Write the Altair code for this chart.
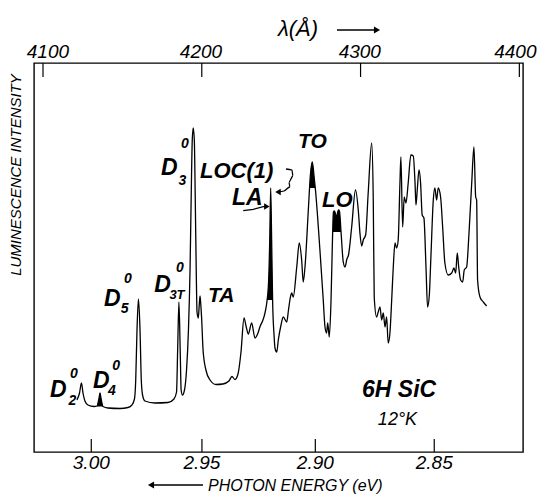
import altair as alt
import pandas as pd

# ---------------- data ----------------
# x: wavelength (Angstrom, linear top scale); y: luminescence intensity (arb. units)
wavelength = [
    4121.4, 4123.0, 4124.2, 4125.2, 4126.4, 4128.3, 4132.1, 4134.0, 4135.3, 4135.9,
    4136.5, 4137.8, 4140.9, 4148.5, 4153.5, 4156.0, 4157.6, 4158.4, 4159.2, 4160.1,
    4161.1, 4161.9, 4162.7, 4164.2, 4170.5, 4178.7, 4182.5, 4184.1, 4184.8, 4185.6,
    4186.4, 4187.0, 4187.8, 4189.1, 4190.4, 4191.6, 4192.6, 4193.3, 4194.0, 4194.6,
    4195.3, 4195.9, 4196.5, 4197.0, 4197.8, 4198.4, 4198.9, 4199.4, 4199.9, 4200.8,
    4202.6, 4205.2, 4208.9, 4213.3, 4217.1, 4219.0, 4220.9, 4222.8, 4224.7, 4226.6,
    4228.0, 4229.3, 4231.4, 4233.5, 4235.4, 4236.6, 4238.5, 4239.8, 4241.9, 4242.8,
    4243.4, 4244.0, 4244.6, 4245.5, 4246.1, 4247.2, 4248.2, 4249.9, 4251.3, 4253.5,
    4254.6, 4255.5, 4256.6, 4257.6, 4259.8, 4261.4, 4262.9, 4263.9, 4265.0, 4267.1,
    4268.4, 4269.6, 4270.7, 4271.6, 4274.4, 4276.5, 4277.6, 4278.6, 4279.3, 4280.3,
    4281.4, 4282.3, 4282.9, 4283.6, 4284.8, 4286.1, 4286.7, 4287.7, 4289.1, 4290.2,
    4291.4, 4292.4, 4294.4, 4296.8, 4298.7, 4299.6, 4300.7, 4301.7, 4303.2, 4304.8,
    4307.0, 4308.0, 4308.6, 4310.1, 4311.1, 4312.2, 4313.3, 4314.3, 4315.4, 4316.4,
    4317.4, 4318.5, 4319.6, 4320.6, 4321.7, 4322.7, 4323.7, 4324.8, 4325.4, 4326.5,
    4327.5, 4328.6, 4330.0, 4331.7, 4333.2, 4334.3, 4334.9, 4335.7, 4336.8, 4337.8,
    4338.8, 4339.9, 4341.2, 4342.2, 4343.3, 4344.3, 4345.8, 4346.8, 4347.9, 4348.9,
    4350.4, 4351.7, 4353.1, 4355.2, 4357.4, 4358.8, 4359.9, 4360.9, 4361.8, 4363.0,
    4364.3, 4365.3, 4366.8, 4368.3, 4370.0, 4371.4, 4372.5, 4373.1, 4373.7, 4375.2,
    4377.3, 4379.4,
]
intensity = [
    52, 59, 69, 59, 51, 47, 45.5, 46, 54, 59,
    54, 45.5, 44, 43.5, 44.5, 47, 53, 72, 122, 153,
    122, 72, 57, 51, 49, 49.5, 53, 60, 102, 150,
    102, 62, 57, 62, 82, 122, 182, 252, 312, 324,
    312, 252, 182, 140, 134, 147, 156, 147, 134, 102,
    82, 72, 67.5, 68, 71, 75.5, 72.5, 78, 100, 134,
    125, 118, 129, 114, 119, 125, 132, 139, 165, 212,
    264, 212, 152, 117, 104, 100, 112, 127, 135, 130,
    142, 152, 159, 155, 185, 209, 192, 170, 185, 242,
    277, 290, 276, 262, 202, 152, 125, 119, 129, 115,
    152, 212, 240, 241, 235, 242, 241, 220, 190, 185,
    193, 197, 225, 262, 239, 219, 206, 212, 217, 259,
    309, 252, 155, 135, 140, 145, 132, 139, 125, 135,
    109, 119, 152, 185, 209, 204, 212, 269, 295, 225,
    255, 249, 269, 297, 296, 269, 247, 262, 282, 269,
    237, 234, 185, 145, 157, 195, 252, 264, 252, 264,
    255, 225, 189, 177, 179, 184, 179, 199, 185, 172,
    170, 182, 185, 219, 269, 305, 255, 252, 172, 155,
    150, 146,
]

# blackened peak regions
fill_D4_lam = [4134.0, 4135.3, 4135.9, 4136.5, 4137.8]
fill_D4_int = [46, 54, 59, 54, 45.5]
fill_D4_base = 45.5
fill_LA_lam = [4240.9, 4241.9, 4242.8, 4243.4, 4244.0, 4244.6]
fill_LA_int = [152, 165, 212, 264, 212, 152]
fill_LA_base = 152
fill_TO_lam = [4267.9, 4268.4, 4269.6, 4270.7, 4271.5]
fill_TO_int = [264, 277, 290, 276, 264]
fill_TO_base = 264
fill_LO_lam = [4282.5, 4282.9, 4283.6, 4284.8, 4286.1, 4286.7, 4287.7]
fill_LO_int = [220, 240, 241, 235, 242, 241, 220]
fill_LO_base = 220

# axes
top_tick_values = [4100, 4200, 4300, 4400]
top_label_pos = [4103.1, 4199.5, 4299.5, 4397.5]
top_tick_labels = ["4100", "4200", "4300", "4400"]
bottom_tick_values = [4130.4, 4200.1, 4271.5, 4346.4]   # positions of the energy ticks
bottom_tick_labels = ["3.00", "2.95", "2.90", "2.85"]

# peak labels
label_text = ["D", "2", "0", "D", "4", "0", "D", "5", "0", "D", "3T", "0", "D", "3", "0",
              "TA", "LOC(1)", "LA", "TO", "LO", "6H SiC", "12°K"]
label_lam = [4104.4, 4116.0, 4117.0, 4131.5, 4141.0, 4143.6, 4138.4, 4149.0, 4151.0,
             4170.0, 4179.6, 4183.8, 4174.3, 4185.3, 4186.9,
             4203.9, 4198.9, 4219.0, 4260.6, 4275.7, 4300.9, 4310.9]
label_int = [55, 47, 74, 64, 57, 82, 146, 139, 169, 160, 153, 180, 277, 267, 304,
             150, 274, 247, 304, 245, 55, 27]
label_size = [23, 14, 14, 23, 14, 14, 23, 14, 14, 23, 13, 14, 23, 14, 14,
              21, 22, 23, 21, 22, 23, 18]
label_weight = ["bold"] * 21 + ["normal"]

# annotation arrows
la_arrow_lam = [4226.1, 4232.4, 4238.7, 4241.0]
la_arrow_int = [241.3, 242.7, 245.3, 245.5]
loc_arrow_lam = [4253.0, 4256.8, 4257.4, 4254.9, 4255.5, 4251.8, 4248.0]
loc_arrow_int = [283, 282, 276, 270, 265, 261, 260]

# ---------------- chart ----------------
W, H = 489, 389
FONT = "Liberation Sans"
xs = alt.Scale(domain=[4094.33, 4402.3], nice=False, zero=False)
ys = alt.Scale(domain=[0, 389], nice=False, zero=False)


def X(f):
    return alt.X(f"{f}:Q", scale=xs, axis=None)


def Y(f):
    return alt.Y(f"{f}:Q", scale=ys, axis=None)


spec = pd.DataFrame({"lam": wavelength, "I": intensity})
curve = alt.Chart(spec).mark_line(color="black", strokeWidth=1.3, interpolate="monotone").encode(
    x=X("lam"), y=Y("I"))

rows = []
for name, lams, ints, base in [("D4", fill_D4_lam, fill_D4_int, fill_D4_base),
                               ("LA", fill_LA_lam, fill_LA_int, fill_LA_base),
                               ("TO", fill_TO_lam, fill_TO_int, fill_TO_base),
                               ("LO", fill_LO_lam, fill_LO_int, fill_LO_base)]:
    for l, v in zip(lams, ints):
        rows.append({"name": name, "lam": l, "I": v, "base": base})
fills = alt.Chart(pd.DataFrame(rows)).mark_area(color="black", interpolate="monotone").encode(
    x=X("lam"), y=Y("I"), y2=alt.Y2("base:Q"), detail="name:N")

top_df = pd.DataFrame({"pos": top_tick_values, "lpos": top_label_pos, "label": top_tick_labels})
bot_df = pd.DataFrame({"pos": bottom_tick_values, "label": bottom_tick_labels})

top_ticks = alt.Chart(top_df).mark_rule(color="black", strokeWidth=1.2).encode(
    x=X("pos"), y=alt.value(0), y2=alt.value(14))
bot_ticks = alt.Chart(bot_df).mark_rule(color="black", strokeWidth=1.2).encode(
    x=X("pos"), y=alt.value(H - 13), y2=alt.value(H))
top_labels = alt.Chart(top_df).mark_text(font=FONT, fontSize=19, fontStyle="italic",
                                          align="center", baseline="alphabetic").encode(
    x=X("lpos"), y=alt.value(-5), text="label:N")
bot_labels = alt.Chart(bot_df).mark_text(font=FONT, fontSize=19, fontStyle="italic",
                                          align="center", baseline="alphabetic").encode(
    x=X("pos"), y=alt.value(H + 17), text="label:N")

label_layers = []
for t, l, v, s, w in zip(label_text, label_lam, label_int, label_size, label_weight):
    d = pd.DataFrame({"t": [t], "lam": [l], "I": [v]})
    label_layers.append(
        alt.Chart(d).mark_text(font=FONT, fontSize=s, fontStyle="italic", fontWeight=w,
                               align="left", baseline="alphabetic").encode(
            x=X("lam"), y=Y("I"), text="t:N"))

la_df = pd.DataFrame({"lam": la_arrow_lam, "I": la_arrow_int, "i": range(len(la_arrow_lam))})
loc_df = pd.DataFrame({"lam": loc_arrow_lam, "I": loc_arrow_int, "i": range(len(loc_arrow_lam))})
la_line = alt.Chart(la_df).mark_line(color="black", strokeWidth=1.3).encode(
    x=X("lam"), y=Y("I"), order="i:Q")
loc_line = alt.Chart(loc_df).mark_line(color="black", strokeWidth=1.3, interpolate="monotone").encode(
    x=X("lam"), y=Y("I"), order="i:Q")
la_head = alt.Chart(la_df.tail(1)).mark_point(shape="triangle-right", filled=True, size=40,
                                              color="black", opacity=1).encode(x=X("lam"), y=Y("I"))
loc_head = alt.Chart(loc_df.tail(1)).mark_point(shape="triangle-left", filled=True, size=40,
                                                color="black", opacity=1).encode(x=X("lam"), y=Y("I"))

one = pd.DataFrame({"t": ["λ(Å)"]})
top_title = alt.Chart(one).mark_text(font=FONT, fontSize=22, fontStyle="italic", align="center",
                                     baseline="alphabetic").encode(
    x=alt.value(264), y=alt.value(-27), text="t:N")
top_arrow = alt.Chart(one).mark_rule(color="black", strokeWidth=1.4).encode(
    x=alt.value(303), x2=alt.value(341), y=alt.value(-33))
top_arrow_head = alt.Chart(one).mark_point(shape="triangle-right", filled=True, size=50,
                                           color="black", opacity=1).encode(
    x=alt.value(343), y=alt.value(-33))

bt = pd.DataFrame({"t": ["PHOTON ENERGY (eV)"]})
bot_title = alt.Chart(bt).mark_text(font=FONT, fontSize=16, fontStyle="italic", align="left",
                                    baseline="alphabetic").encode(
    x=alt.value(174), y=alt.value(H + 39), text="t:N")
bot_arrow = alt.Chart(bt).mark_rule(color="black", strokeWidth=1.4).encode(
    x=alt.value(119), x2=alt.value(169), y=alt.value(H + 33))
bot_arrow_head = alt.Chart(bt).mark_point(shape="triangle-left", filled=True, size=50,
                                          color="black", opacity=1).encode(
    x=alt.value(117), y=alt.value(H + 33))

yt = pd.DataFrame({"t": ["LUMINESCENCE INTENSITY"]})
y_title = alt.Chart(yt).mark_text(font=FONT, fontSize=15, fontStyle="italic", align="center",
                                  baseline="middle", angle=270).encode(
    x=alt.value(-18), y=alt.value(112), text="t:N")

chart = alt.layer(
    curve, fills, top_ticks, bot_ticks, top_labels, bot_labels,
    la_line, loc_line, la_head, loc_head,
    top_title, top_arrow, top_arrow_head, bot_title, bot_arrow, bot_arrow_head, y_title,
    *label_layers,
).properties(
    width=W, height=H,
    padding={"left": 26, "top": 55, "right": 16, "bottom": 42},
    autosize=alt.AutoSizeParams(type="none"),
).configure_view(stroke="black", strokeWidth=1.4)

chart.save("out.html", embed_options={"renderer": "svg", "actions": False})
